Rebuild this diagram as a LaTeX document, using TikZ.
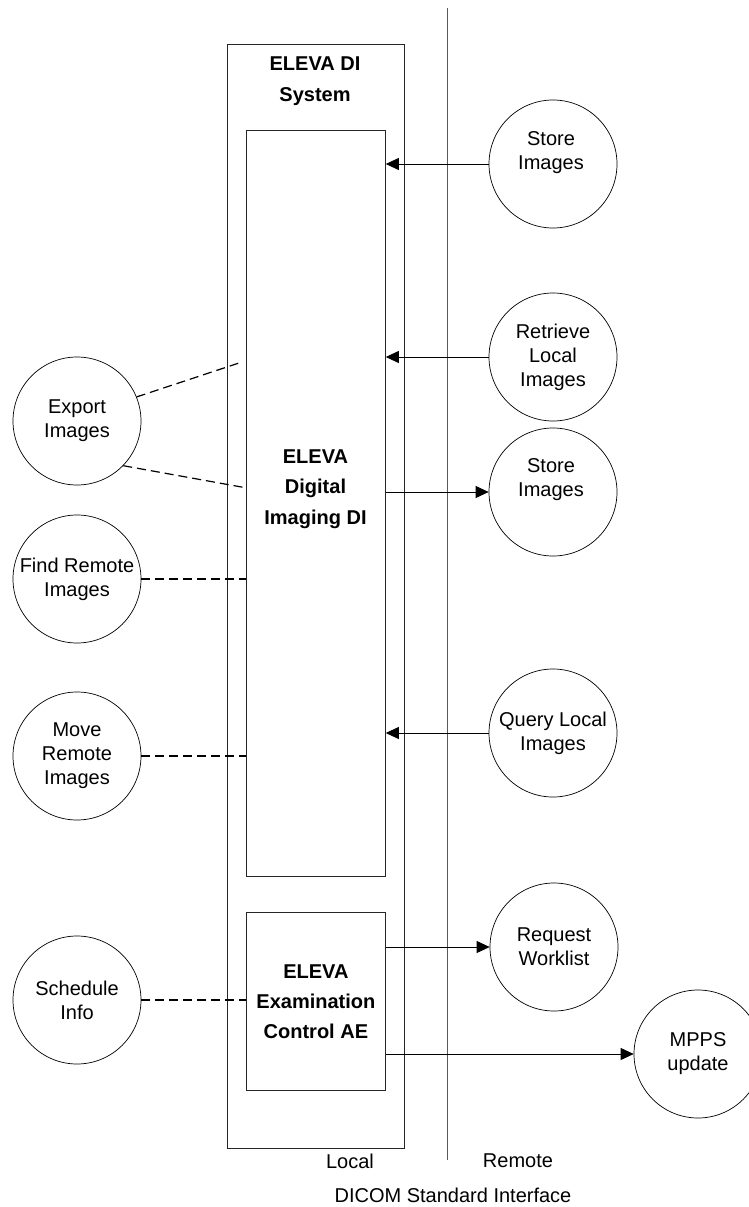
\documentclass[tikz,border=0pt]{standalone}
\usepackage{fontspec}
\setmainfont{Liberation Sans}
\usetikzlibrary{arrows.meta}
\begin{document}
\begin{tikzpicture}[x=1pt,y=-1pt,
  box/.style={draw=black!85,line width=0.8pt,inner sep=0pt,anchor=north west},
  circ/.style={draw,circle,minimum size=128pt,inner sep=0pt,line width=0.7pt},
  lbl/.style={align=center,inner sep=0pt,font=\fontsize{20}{24}\selectfont},
  blbl/.style={align=center,inner sep=0pt,font=\fontsize{20}{30.5}\selectfont\bfseries},
  arr/.style={-{Triangle[length=13pt,width=12pt]},line width=0.8pt},
  dsh/.style={dash pattern=on 9pt off 5pt,line width=1.2pt}]
\useasboundingbox (0,0) rectangle (749,1207);
% boxes
\node[box,minimum width=177pt,minimum height=1104pt] (sys) at (227,44) {};
\node[box,minimum width=139pt,minimum height=746pt] (di) at (246,130) {};
\node[box,minimum width=139pt,minimum height=178pt,align=center,
      font=\fontsize{20}{30}\selectfont\bfseries] (ex) at (246,912) {ELEVA\\Examination\\Control AE};
\node[blbl] (title) at (315,81) {ELEVA DI\\System};
\node[blbl] (dit) at (315.5,489) {ELEVA\\Digital\\Imaging DI};
% interface line
\coordinate (itop) at (447,8);
\coordinate (ibot) at (447,1160);
\draw[black!65,line width=1pt] (itop) -- (ibot);
% right circles
\node[circ] (s1) at (553,164) {};
\node[lbl] (s1t) at (551,153) {Store\\Images};
\node[circ,lbl] (rl) at (553,357) {Retrieve\\Local\\Images};
\node[circ] (s2) at (553,492) {};
\node[lbl] (s2t) at (551,480) {Store\\Images};
\node[circ,lbl] (ql) at (553,733) {Query Local\\Images};
\node[circ,lbl] (rw) at (554,947) {Request\\Worklist};
\node[circ,lbl] (mp) at (698,1054) {MPPS\\update};
% left circles
\node[circ,lbl] (exp) at (77,421) {Export\\Images};
\node[circ,lbl] (fr) at (77,579) {Find Remote\\Images};
\node[circ,lbl] (mv) at (77,756) {Move\\Remote\\Images};
\node[circ,lbl] (sc) at (77,1000) {Schedule\\Info};
% arrows
\draw[arr] (s1.west) -- (s1.west -| di.east);
\draw[arr] (rl.west) -- (rl.west -| di.east);
\draw[arr] (s2.west -| di.east) -- (s2.west);
\draw[arr] (ql.west) -- (ql.west -| di.east);
\draw[arr] (rw.west -| ex.east) -- (rw.west);
\draw[arr] (mp.west -| ex.east) -- (mp.west);
% dashed
\coordinate (e1) at (242,362);
\coordinate (e2) at (247,488);
\draw[dsh] (exp.22) -- (e1);
\draw[dsh] (exp.-44) -- (e2);
\draw[dsh] (fr.east) -- (fr.east -| di.west);
\draw[dsh] (mv.east) -- (mv.east -| di.west);
\draw[dsh] (sc.east) -- (sc.east -| ex.west);
% labels
\node[lbl] (loc) at (350,1161) {Local};
\node[lbl] (rem) at (518,1161) {Remote};
\node[lbl] (dicom) at (453,1195) {DICOM Standard Interface};
\end{tikzpicture}
\end{document}
